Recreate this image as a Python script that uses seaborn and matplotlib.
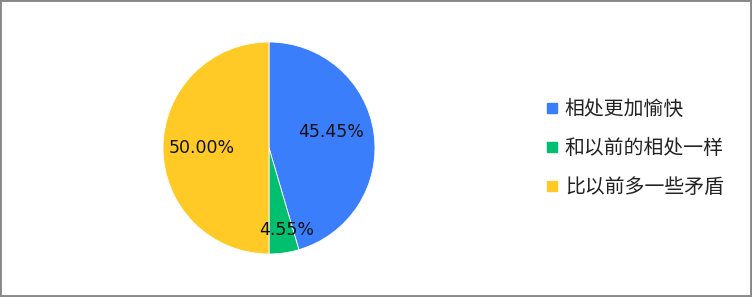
import matplotlib
matplotlib.use("Agg")
import matplotlib.pyplot as plt
import seaborn as sns
import numpy as np
from matplotlib.lines import Line2D
from matplotlib.patches import Rectangle

categories = ["相处更加愉快", "和以前的相处一样", "比以前多一些矛盾"]
values = [45.45, 4.55, 50.00]
label_texts = ["45.45%", "4.55%", "50.00%"]
label_dist = [0.60, 0.79, 0.63]
label_angle_shift = [6, 4, 0]

sns.set_theme(style="white")
plt.rcParams['font.family'] = ['Noto Sans CJK SC', 'DejaVu Sans']
colors = ["#3B7EFC", "#00BF6F", "#FFC926"]

fig = plt.figure(figsize=(7.52, 2.97), dpi=100)
fig.patch.set_facecolor("white")
ax = fig.add_axes([163/752, 43/297, 212/752, 212/297])

wedges, _ = ax.pie(values, colors=colors, startangle=90, counterclock=False,
                   radius=1, wedgeprops=dict(linewidth=0.6, edgecolor="white"))
for w, txt, d, s in zip(wedges, label_texts, label_dist, label_angle_shift):
    ang = np.deg2rad((w.theta1 + w.theta2) / 2 + s)
    ax.text(d * np.cos(ang), d * np.sin(ang), txt, ha="center", va="center",
            fontsize=12.5, color="#111111", family=['DejaVu Sans'])
ax.set_xlim(-1, 1)
ax.set_ylim(-1, 1)
ax.set_aspect("equal")
ax.axis("off")

handles = [Line2D([], [], marker="s", linestyle="none", markersize=7.5,
                  markerfacecolor=c, markeredgecolor=c) for c in colors]
fig.legend(handles, categories, loc="center left", bbox_to_anchor=(538/752, 0.5),
           frameon=False, fontsize=14.3, handlelength=0.6, handletextpad=0.35,
           labelspacing=0.9, borderaxespad=0, labelcolor="#222222")

fig.add_artist(Rectangle((0, 0), 1, 1, transform=fig.transFigure, fill=False,
                         edgecolor="#898989", linewidth=2.8, clip_on=False))
fig.savefig("out.png", dpi=100)
